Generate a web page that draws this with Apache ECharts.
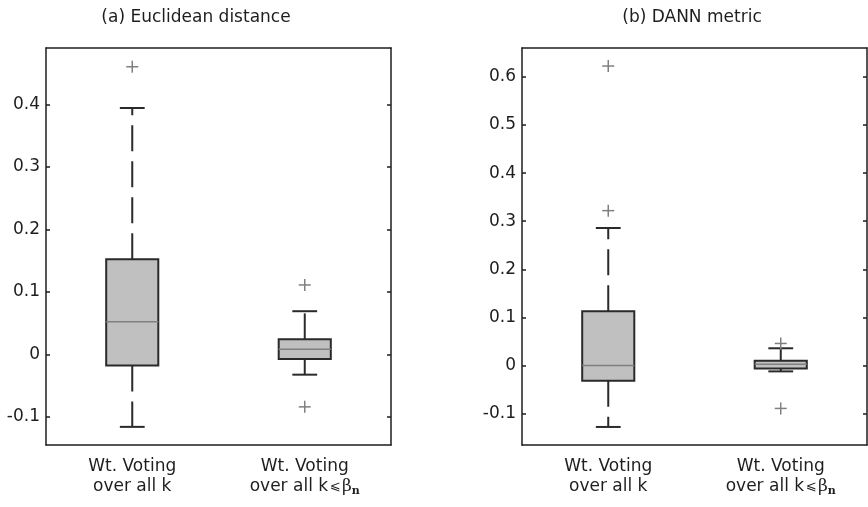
<!DOCTYPE html>
<html>
<head>
<meta charset="utf-8">
<script src="https://cdn.jsdelivr.net/npm/echarts@6/dist/echarts.min.js"></script>
<style>
  html, body { margin: 0; padding: 0; background: #fff; }
  #main { width: 868px; height: 507px; }
</style>
</head>
<body>
<div id="main"></div>
<script>
// 数据
const categories = ['Wt. Voting\nover all k', 'Wt. Voting\nover all k⩽βn'];
const titles = ['(a) Euclidean distance', '(b) DANN metric'];

// [类别, 下须, 下四分位, 中位数, 上四分位, 上须]
const euclidBoxes = [
    [0, -0.116, -0.018, 0.052, 0.152, 0.394],
    [1, -0.0325, -0.0075, 0.008, 0.024, 0.069]
];
const euclidOutliers = [[0, 0.46], [1, 0.111], [1, -0.084]];

const dannBoxes = [
    [0, -0.1275, -0.0316, 0.0, 0.113, 0.286],
    [1, -0.012, -0.006, 0.003, 0.01, 0.036]
];
const dannOutliers = [[0, 0.6225], [0, 0.322], [1, 0.046], [1, -0.089]];

const euclidTicks = [-0.1, 0, 0.1, 0.2, 0.3, 0.4];
const dannTicks = [-0.1, 0, 0.1, 0.2, 0.3, 0.4, 0.5, 0.6];

const chart = echarts.init(document.getElementById('main'));

const ink = '#1e1e1e';
const font = 'DejaVu Sans';

// 箱体
function renderBox(params, api) {
    const idx = api.value(0);
    const band = api.coord([1, 0])[0] - api.coord([0, 0])[0];
    const half = band * 0.151, cap = band * 0.072;
    const x = api.coord([idx, 0])[0];
    const lo = api.coord([idx, api.value(1)])[1];
    const q1 = api.coord([idx, api.value(2)])[1];
    const med = api.coord([idx, api.value(3)])[1];
    const q3 = api.coord([idx, api.value(4)])[1];
    const hi = api.coord([idx, api.value(5)])[1];
    const whisker = {stroke: '#2a2a2a', lineWidth: 2, lineDash: [26, 10]};
    const solid = {stroke: '#2a2a2a', lineWidth: 2};
    return {
        type: 'group',
        children: [
            {type: 'line', shape: {x1: x, y1: q3, x2: x, y2: hi}, style: whisker},
            {type: 'line', shape: {x1: x, y1: q1, x2: x, y2: lo}, style: whisker},
            {type: 'line', shape: {x1: x - cap, y1: hi, x2: x + cap, y2: hi}, style: solid},
            {type: 'line', shape: {x1: x - cap, y1: lo, x2: x + cap, y2: lo}, style: solid},
            {type: 'rect', shape: {x: x - half, y: q3, width: half * 2, height: q1 - q3},
                style: {fill: '#c0c0c0', stroke: '#2a2a2a', lineWidth: 2}},
            {type: 'line', shape: {x1: x - half, y1: med, x2: x + half, y2: med},
                style: {stroke: '#808080', lineWidth: 1.5}}
        ]
    };
}

// 离群点 '+'
function renderPlus(params, api) {
    const p = api.coord([api.value(0), api.value(1)]);
    const s = 6;
    const st = {stroke: '#808080', lineWidth: 1.5};
    return {
        type: 'group',
        children: [
            {type: 'line', shape: {x1: p[0] - s, y1: p[1], x2: p[0] + s, y2: p[1]}, style: st},
            {type: 'line', shape: {x1: p[0], y1: p[1] - s, x2: p[0], y2: p[1] + s}, style: st}
        ]
    };
}

const lineStyle = {color: ink, width: 1.5};

function catLabel(v) {
    const parts = v.split('\n');
    if (parts[1].indexOf('⩽') >= 0) {
        const a = parts[1].split('⩽');
        return '{t|' + parts[0] + '}\n{t|' + a[0] + '}{le|⩽}{b|β}{s|n}';
    }
    return '{t|' + parts[0] + '}\n{t|' + parts[1] + '}';
}

const rich = {
    t: {fontFamily: font, fontSize: 17, color: ink, lineHeight: 20},
    le: {fontFamily: font, fontSize: 13, color: ink, lineHeight: 20, padding: [0, 1, 0, 2]},
    b: {fontFamily: 'DejaVu Serif', fontSize: 17, color: ink, lineHeight: 20},
    s: {fontFamily: 'DejaVu Serif', fontSize: 11, fontWeight: 'bold', color: ink, lineHeight: 12, verticalAlign: 'bottom'}
};

function xAxes(gi) {
    return [{
        type: 'category', gridIndex: gi, data: categories, position: 'bottom',
        axisLine: {onZero: false, lineStyle: lineStyle},
        axisTick: {inside: true, alignWithLabel: true, length: 4, lineStyle: lineStyle},
        axisLabel: {margin: 12, formatter: catLabel, rich: rich, interval: 0},
        splitLine: {show: false}
    }, {
        type: 'category', gridIndex: gi, data: categories, position: 'top',
        axisLine: {onZero: false, lineStyle: lineStyle},
        axisTick: {inside: true, alignWithLabel: true, length: 4, lineStyle: lineStyle},
        axisLabel: {show: false},
        splitLine: {show: false}
    }];
}

function yAxes(gi, min, max, ticks) {
    return [{
        type: 'value', gridIndex: gi, min: min, max: max, position: 'left',
        axisLine: {show: true, onZero: false, lineStyle: lineStyle},
        axisTick: {show: true, inside: true, length: 4, lineStyle: lineStyle, customValues: ticks},
        axisLabel: {customValues: ticks, margin: 6, color: ink, fontFamily: font, fontSize: 17,
            formatter: v => String(v)},
        splitLine: {show: false}
    }, {
        type: 'value', gridIndex: gi, min: min, max: max, position: 'right',
        axisLine: {show: true, onZero: false, lineStyle: lineStyle},
        axisTick: {show: true, inside: true, length: 4, lineStyle: lineStyle, customValues: ticks},
        axisLabel: {show: false},
        splitLine: {show: false}
    }];
}

const option = {
    animation: false,
    backgroundColor: '#fff',
    title: [{
        text: titles[0], left: 191, top: 4, textAlign: 'center',
        textStyle: {fontFamily: font, fontSize: 17, fontWeight: 'normal', color: ink}
    }, {
        text: titles[1], left: 687, top: 4, textAlign: 'center',
        textStyle: {fontFamily: font, fontSize: 17, fontWeight: 'normal', color: ink}
    }],
    grid: [
        {left: 46, top: 48, width: 345, height: 397},
        {left: 522, top: 48, width: 345, height: 397}
    ],
    xAxis: xAxes(0).concat(xAxes(1)),
    yAxis: yAxes(0, -0.145, 0.49, euclidTicks).concat(yAxes(1, -0.165, 0.66, dannTicks)),
    series: [
        {type: 'custom', xAxisIndex: 0, yAxisIndex: 0, renderItem: renderBox, data: euclidBoxes},
        {type: 'custom', xAxisIndex: 0, yAxisIndex: 0, renderItem: renderPlus, data: euclidOutliers},
        {type: 'custom', xAxisIndex: 2, yAxisIndex: 2, renderItem: renderBox, data: dannBoxes},
        {type: 'custom', xAxisIndex: 2, yAxisIndex: 2, renderItem: renderPlus, data: dannOutliers}
    ]
};

chart.setOption(option);
</script>
</body>
</html>
